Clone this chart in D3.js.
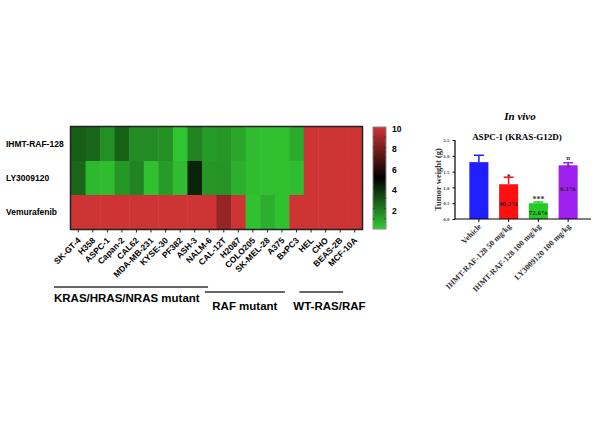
<!DOCTYPE html>
<html>
<head>
<meta charset="utf-8">
<script src="https://cdn.jsdelivr.net/npm/d3@7"></script>
<style>
  body { margin: 0; background: #fff; }
  svg { display: block; }
</style>
</head>
<body>
<div id="container"></div>
<script>
var W = 600, H = 427;

// heatmap data
var cellLines = ['SK-GT-4', 'H358', 'ASPC-1', 'Capan-2', 'CAL62', 'MDA-MB-231', 'KYSE-30', 'PF382',
                 'ASH-3', 'NALM-6', 'CAL-12T', 'H2087', 'COLO205', 'SK-MEL-28', 'A375', 'BxPC3',
                 'HEL', 'CHO', 'BEAS-2B', 'MCF-10A'];
var drugs = ['IHMT-RAF-128', 'LY3009120', 'Vemurafenib'];
var ihmtValues = [2.7, 2.5, 1.5, 2.6, 1.6, 1.6, 1.5, 0.2, 1.8, 1.2, 1.3, 0.9, 0.4, 0.3, 0.3, 0.8, 10, 10, 10, 10];
var lyValues   = [2.5, 0.5, 0.4, 1.3, 1.8, 0.3, 1.2, 0.4, 4.1, 1.3, 1.4, 0.7, 0.4, 0.3, 0.3, 0.4, 10, 10, 10, 10];
var vemValues  = [10, 10, 10, 10, 10, 10, 10, 10, 10, 10, 8.6, 10, 0.3, 0.7, 0.3, 10, 10, 10, 10, 10];
var colorTicks = [2, 4, 6, 8, 10];
var groupNames = ['KRAS/HRAS/NRAS mutant', 'RAF mutant', 'WT-RAS/RAF'];

// bar chart data
var treatments = ['Vehicle', 'IHMT-RAF-128 50 mg/kg', 'IHMT-RAF-128 100 mg/kg', 'LY3009120 100 mg/kg'];
var weights = [1.8, 1.1, 0.5, 1.7];
var weightErr = [0.22, 0.22, 0.04, 0.08];
var inhibition = ['', '40.2%', '72.6%', '6.1%'];
var signif = ['', '*', '***', 'ns'];
var barColors = ['#1f1fff', '#ff1010', '#22cc22', '#a020f0'];
var yTicks = [0, 0.5, 1.0, 1.5, 2.0, 2.5];

var svg = d3.select('#container').append('svg')
    .attr('width', W)
    .attr('height', H);

var sans = 'Liberation Sans, Arial, sans-serif',
    serif = 'Liberation Serif, Times New Roman, serif';

// ---------- heatmap ----------
var hm = {left: 71, right: 362, top: 127, bottom: 229};
var rows = [ihmtValues, lyValues, vemValues];

var x = d3.scaleBand().domain(cellLines).range([hm.left, hm.right]);
var y = d3.scaleBand().domain(drugs).range([hm.top, hm.bottom]);
var color = d3.scaleLinear().domain([0, 5, 10]).range(['#33cc33', '#000000', '#cf3434']);

var cells = [];
rows.forEach(function(r, i) {
  r.forEach(function(v, j) {
    cells.push({drug: drugs[i], line: cellLines[j], value: v});
  });
});

svg.append('g').selectAll('rect')
  .data(cells)
  .enter()
  .append('rect')
    .attr('x', function(d) { return x(d.line); })
    .attr('y', function(d) { return y(d.drug); })
    .attr('width', x.bandwidth() + 0.5)
    .attr('height', y.bandwidth() + 0.5)
    .style('fill', function(d) { return color(d.value); });

svg.append('rect')
    .attr('x', hm.left - 0.5)
    .attr('y', hm.top - 0.5)
    .attr('width', hm.right - hm.left + 1)
    .attr('height', hm.bottom - hm.top + 1)
    .attr('fill', 'none')
    .attr('stroke', '#222')
    .attr('stroke-width', 1.5);

// row labels
svg.append('g').selectAll('text')
  .data(drugs)
  .enter()
  .append('text')
    .attr('x', 6)
    .attr('y', function(d) { return y(d) + y.bandwidth() / 2; })
    .attr('dy', '0.35em')
    .style('font', 'bold 8.5px ' + sans)
    .text(function(d) { return d; });

// column ticks + labels
var xTickG = svg.append('g');
xTickG.selectAll('line')
  .data(cellLines)
  .enter()
  .append('line')
    .attr('x1', function(d) { return x(d) + x.bandwidth() / 2; })
    .attr('x2', function(d) { return x(d) + x.bandwidth() / 2; })
    .attr('y1', hm.bottom)
    .attr('y2', hm.bottom + 3.5)
    .attr('stroke', '#222')
    .attr('stroke-width', 1);
xTickG.selectAll('text')
  .data(cellLines)
  .enter()
  .append('text')
    .attr('transform', function(d) {
      return 'translate(' + (x(d) + x.bandwidth() / 2 + 3) + ',' + (hm.bottom + 12) + ') rotate(-45)';
    })
    .attr('text-anchor', 'end')
    .style('font', 'bold 8.5px ' + sans)
    .text(function(d) { return d; });

// group brackets, span given in column units (slanted labels shift them left)
var colPos = d3.scaleLinear().domain([0, cellLines.length]).range([hm.left, hm.right]);
var groupSpan = [[-1.17, 9.42], [9.2, 14.7], [15.7, 18.7]],
    groupY = [287, 292, 292],
    groupTextY = [302, 310, 310];
var gG = svg.append('g');
groupNames.forEach(function(name, i) {
  var x1 = colPos(groupSpan[i][0]), x2 = colPos(groupSpan[i][1]);
  gG.append('line')
      .attr('x1', x1).attr('x2', x2)
      .attr('y1', groupY[i]).attr('y2', groupY[i])
      .attr('stroke', '#333')
      .attr('stroke-width', 1.5);
  gG.append('text')
      .attr('x', i === 0 ? x1 : (i === 1 ? x1 + 40 : x1 + 30))
      .attr('y', groupTextY[i])
      .attr('text-anchor', i === 0 ? 'start' : 'middle')
      .style('font', 'bold 11.5px ' + sans)
      .text(name);
});

// color bar
var cb = {left: 373, right: 386};
var cScale = d3.scaleLinear().domain([0, 10]).range([hm.bottom, hm.top]);
var defs = svg.append('defs');
var grad = defs.append('linearGradient')
    .attr('id', 'cbgrad')
    .attr('x1', 0).attr('x2', 0).attr('y1', 1).attr('y2', 0);
[0, 5, 10].forEach(function(v) {
  grad.append('stop').attr('offset', v / 10).attr('stop-color', color(v));
});
svg.append('rect')
    .attr('x', cb.left)
    .attr('y', hm.top)
    .attr('width', cb.right - cb.left)
    .attr('height', hm.bottom - hm.top)
    .attr('fill', 'url(#cbgrad)')
    .attr('stroke', '#888')
    .attr('stroke-width', 1);
var cbTicks = d3.range(1, 10);
svg.append('g').selectAll('path')
  .data(cbTicks)
  .enter()
  .append('path')
    .attr('d', function(d) {
      var yy = cScale(d);
      return 'M' + cb.left + ',' + yy + 'h1.5M' + cb.right + ',' + yy + 'h-1.5';
    })
    .attr('stroke', '#333')
    .attr('stroke-width', 1);
svg.append('g').selectAll('text')
  .data(colorTicks)
  .enter()
  .append('text')
    .attr('x', 392)
    .attr('y', function(d) { return cScale(d) + 2; })
    .attr('dy', '0.35em')
    .style('font', 'bold 8.5px ' + sans)
    .text(function(d) { return d; });

// ---------- bar chart ----------
var bc = {left: 455, right: 591, top: 140, bottom: 219};
var bx = d3.scaleBand().domain(treatments).range([464, 583]).paddingInner(0.36).paddingOuter(0.18);
var by = d3.scaleLinear().domain([0, 2.5]).range([bc.bottom, bc.top]);

svg.append('text')
    .attr('x', 520).attr('y', 120)
    .attr('text-anchor', 'middle')
    .style('font', 'italic bold 11px ' + serif)
    .text('In vivo');
svg.append('text')
    .attr('x', 517).attr('y', 140)
    .attr('text-anchor', 'middle')
    .style('font', 'bold 9px ' + serif)
    .text('ASPC-1 (KRAS-G12D)');

var bars = svg.append('g');
treatments.forEach(function(t, i) {
  var cx = bx(t) + bx.bandwidth() / 2;
  var top = by(weights[i] + weightErr[i]);
  bars.append('path')
      .attr('d', 'M' + cx + ',' + by(weights[i]) + 'V' + top + 'M' + (cx - 5) + ',' + top + 'H' + (cx + 5))
      .attr('stroke', barColors[i])
      .attr('stroke-width', 1.5)
      .attr('fill', 'none');
  bars.append('rect')
      .attr('x', bx(t))
      .attr('y', by(weights[i]))
      .attr('width', bx.bandwidth())
      .attr('height', by(0) - by(weights[i]))
      .attr('fill', barColors[i]);
});

// significance and inhibition labels
var sigY = [0, 176, 198, 0];
[1, 2].forEach(function(i) {
  bars.append('text')
      .attr('x', bx(treatments[i]) + bx.bandwidth() / 2)
      .attr('y', sigY[i] + 4)
      .attr('text-anchor', 'middle')
      .style('font', 'bold 8px ' + serif)
      .style('fill', '#333')
      .text(signif[i]);
});
var nsX = bx(treatments[3]) + bx.bandwidth() / 2;
signif[3].split('').forEach(function(ch, k) {
  bars.append('text')
      .attr('x', nsX)
      .attr('y', 160 + k * 7)
      .attr('text-anchor', 'middle')
      .style('font', 'bold 7px ' + serif)
      .style('fill', '#333')
      .text(ch);
});
var pctY = [0, 206, 215, 191];
inhibition.forEach(function(p, i) {
  if (!p) return;
  bars.append('text')
      .attr('x', bx(treatments[i]) + bx.bandwidth() / 2)
      .attr('y', pctY[i])
      .attr('text-anchor', 'middle')
      .style('font', 'bold 7px ' + serif)
      .style('fill', '#222')
      .text(p);
});

// axes
var yAxis = svg.append('g')
    .attr('transform', 'translate(' + bc.left + ',0)')
    .call(d3.axisLeft(by).tickValues(yTicks).tickFormat(d3.format('.1f')).tickSize(2.5));
yAxis.select('.domain').attr('stroke-width', 1.2).attr('d', 'M0,' + (by(2.5)) + 'V' + by(0));
yAxis.selectAll('text').style('font', 'bold 5px ' + serif).attr('fill', '#444');

var xAxis = svg.append('g')
    .attr('transform', 'translate(0,' + bc.bottom + ')')
    .call(d3.axisBottom(bx).tickSize(3).tickFormat(''));
xAxis.select('.domain').attr('stroke-width', 1.2).attr('d', 'M' + bc.left + ',0H' + bc.right);
xAxis.selectAll('.tick line').attr('stroke-width', 1);

svg.append('g').selectAll('text')
  .data(treatments)
  .enter()
  .append('text')
    .attr('transform', function(d) {
      return 'translate(' + (bx(d) + bx.bandwidth() / 2 + 3) + ',' + (bc.bottom + 8) + ') rotate(-45)';
    })
    .attr('text-anchor', 'end')
    .style('font', 'bold 8px ' + serif)
    .style('fill', '#333')
    .text(function(d) { return d; });

svg.append('text')
    .attr('transform', 'translate(441,' + ((bc.top + bc.bottom) / 2) + ') rotate(-90)')
    .attr('text-anchor', 'middle')
    .style('font', 'bold 8.5px ' + serif)
    .style('fill', '#333')
    .text('Tumor weight (g)');
</script>
</body>
</html>
